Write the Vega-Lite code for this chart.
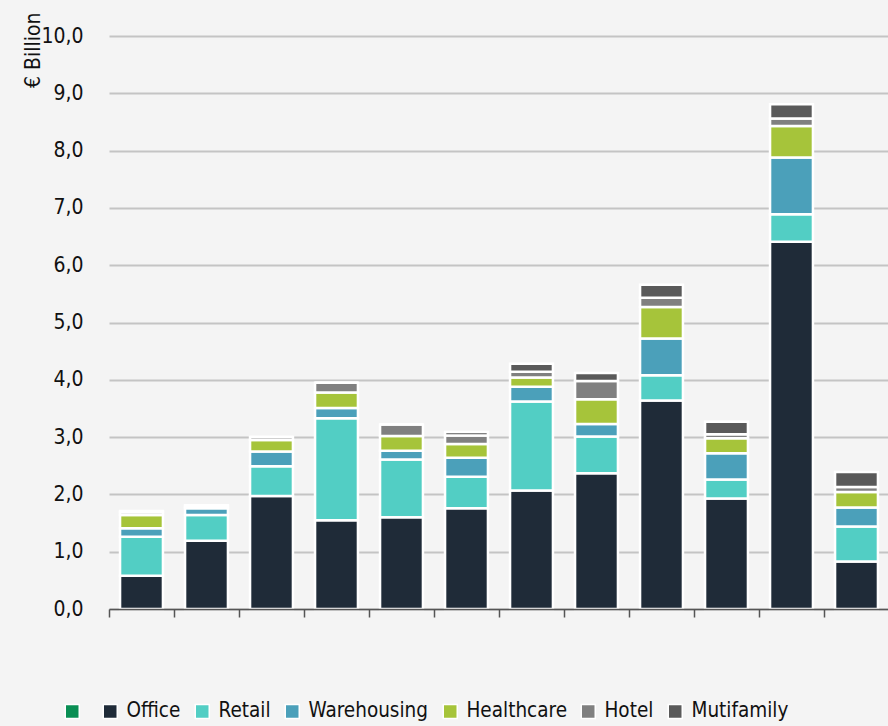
{
  "$schema": "https://vega.github.io/schema/vega-lite/v6.json",
  "width": 780,
  "height": 573,
  "autosize": "none",
  "padding": {"left": 109, "top": 36, "right": 0, "bottom": 117},
  "background": "#f4f4f4",
  "config": {"view": {"stroke": null}, "font": "'DejaVu Sans Condensed', 'Liberation Sans', sans-serif"},
  "data": {"values": [
    {"period": "P01", "type": "Office", "value": 0.58}, {"period": "P01", "type": "Retail", "value": 0.68}, {"period": "P01", "type": "Warehousing", "value": 0.15}, {"period": "P01", "type": "Healthcare", "value": 0.23}, {"period": "P01", "type": "Hotel", "value": 0.05}, {"period": "P01", "type": "Mutifamily", "value": 0.02},
    {"period": "P02", "type": "Office", "value": 1.19}, {"period": "P02", "type": "Retail", "value": 0.45}, {"period": "P02", "type": "Warehousing", "value": 0.12}, {"period": "P02", "type": "Healthcare", "value": 0.03}, {"period": "P02", "type": "Hotel", "value": 0.02}, {"period": "P02", "type": "Mutifamily", "value": 0.0},
    {"period": "P03", "type": "Office", "value": 1.97}, {"period": "P03", "type": "Retail", "value": 0.52}, {"period": "P03", "type": "Warehousing", "value": 0.26}, {"period": "P03", "type": "Healthcare", "value": 0.2}, {"period": "P03", "type": "Hotel", "value": 0.05}, {"period": "P03", "type": "Mutifamily", "value": 0.0},
    {"period": "P04", "type": "Office", "value": 1.55}, {"period": "P04", "type": "Retail", "value": 1.78}, {"period": "P04", "type": "Warehousing", "value": 0.18}, {"period": "P04", "type": "Healthcare", "value": 0.27}, {"period": "P04", "type": "Hotel", "value": 0.17}, {"period": "P04", "type": "Mutifamily", "value": 0.0},
    {"period": "P05", "type": "Office", "value": 1.6}, {"period": "P05", "type": "Retail", "value": 1.01}, {"period": "P05", "type": "Warehousing", "value": 0.15}, {"period": "P05", "type": "Healthcare", "value": 0.26}, {"period": "P05", "type": "Hotel", "value": 0.2}, {"period": "P05", "type": "Mutifamily", "value": 0.0},
    {"period": "P06", "type": "Office", "value": 1.76}, {"period": "P06", "type": "Retail", "value": 0.55}, {"period": "P06", "type": "Warehousing", "value": 0.33}, {"period": "P06", "type": "Healthcare", "value": 0.24}, {"period": "P06", "type": "Hotel", "value": 0.15}, {"period": "P06", "type": "Mutifamily", "value": 0.06},
    {"period": "P07", "type": "Office", "value": 2.07}, {"period": "P07", "type": "Retail", "value": 1.55}, {"period": "P07", "type": "Warehousing", "value": 0.26}, {"period": "P07", "type": "Healthcare", "value": 0.16}, {"period": "P07", "type": "Hotel", "value": 0.1}, {"period": "P07", "type": "Mutifamily", "value": 0.14},
    {"period": "P08", "type": "Office", "value": 2.37}, {"period": "P08", "type": "Retail", "value": 0.64}, {"period": "P08", "type": "Warehousing", "value": 0.22}, {"period": "P08", "type": "Healthcare", "value": 0.43}, {"period": "P08", "type": "Hotel", "value": 0.32}, {"period": "P08", "type": "Mutifamily", "value": 0.14},
    {"period": "P09", "type": "Office", "value": 3.64}, {"period": "P09", "type": "Retail", "value": 0.44}, {"period": "P09", "type": "Warehousing", "value": 0.64}, {"period": "P09", "type": "Healthcare", "value": 0.55}, {"period": "P09", "type": "Hotel", "value": 0.16}, {"period": "P09", "type": "Mutifamily", "value": 0.23},
    {"period": "P10", "type": "Office", "value": 1.93}, {"period": "P10", "type": "Retail", "value": 0.33}, {"period": "P10", "type": "Warehousing", "value": 0.46}, {"period": "P10", "type": "Healthcare", "value": 0.26}, {"period": "P10", "type": "Hotel", "value": 0.07}, {"period": "P10", "type": "Mutifamily", "value": 0.22},
    {"period": "P11", "type": "Office", "value": 6.41}, {"period": "P11", "type": "Retail", "value": 0.48}, {"period": "P11", "type": "Warehousing", "value": 0.99}, {"period": "P11", "type": "Healthcare", "value": 0.55}, {"period": "P11", "type": "Hotel", "value": 0.13}, {"period": "P11", "type": "Mutifamily", "value": 0.25},
    {"period": "P12", "type": "Office", "value": 0.83}, {"period": "P12", "type": "Retail", "value": 0.61}, {"period": "P12", "type": "Warehousing", "value": 0.33}, {"period": "P12", "type": "Healthcare", "value": 0.27}, {"period": "P12", "type": "Hotel", "value": 0.09}, {"period": "P12", "type": "Mutifamily", "value": 0.26}
  ]},
  "transform": [
    {"calculate": "indexof(['Office', 'Retail', 'Warehousing', 'Healthcare', 'Hotel', 'Mutifamily'], datum.type)", "as": "stackRank"}
  ],
  "mark": {"type": "bar", "stroke": "white", "strokeWidth": 2.5},
  "encoding": {
    "x": {
      "field": "period", "type": "ordinal", "sort": null,
      "scale": {"paddingInner": 0.34, "paddingOuter": 0.17},
      "axis": {"labels": false, "title": null, "domainColor": "#555555", "domainWidth": 1.5, "tickColor": "#555555", "tickBand": "center", "tickOffset": -32.5, "tickSize": 8, "tickWidth": 1.5, "zindex": 1}
    },
    "y": {
      "field": "value", "type": "quantitative", "stack": "zero",
      "scale": {"domain": [0, 10], "nice": false},
      "axis": {
        "values": [0, 1, 2, 3, 4, 5, 6, 7, 8, 9, 10],
        "labelExpr": "replace(format(datum.value, '.1f'), '.', ',')",
        "domain": false, "ticks": false, "labelPadding": 26,
        "labelFontSize": 21, "labelColor": "#111111",
        "gridColor": "#c4c4c4", "gridWidth": 2,
        "title": "€ Billion", "titleFontSize": 21, "titleFontWeight": "normal", "titleColor": "#111111",
        "titleAngle": -90, "titleX": -87, "titleY": -24, "titleAlign": "right", "titleBaseline": "top"
      }
    },
    "order": {"field": "stackRank", "type": "quantitative", "sort": "ascending"},
    "color": {
      "field": "type", "type": "nominal",
      "sort": [" ", "Office", "Retail", "Warehousing", "Healthcare", "Hotel", "Mutifamily"],
      "scale": {
        "domain": [" ", "Office", "Retail", "Warehousing", "Healthcare", "Hotel", "Mutifamily"],
        "range": ["#0a8f54", "#1f2b38", "#52cec4", "#4ba0ba", "#a6c43a", "#808080", "#5a5a5a"]
      },
      "legend": {
        "title": null, "orient": "none", "direction": "horizontal",
        "legendX": -47, "legendY": 665, "padding": 0,
        "labelExpr": "datum.label == ' ' ? '' : datum.label",
        "symbolType": "square", "symbolSize": 196, "symbolStrokeColor": "white", "symbolStrokeWidth": 1.5, "symbolOpacity": 1,
        "labelFontSize": 20.5, "labelColor": "#111111", "labelOffset": 6, "columnPadding": 11
      }
    }
  }
}
